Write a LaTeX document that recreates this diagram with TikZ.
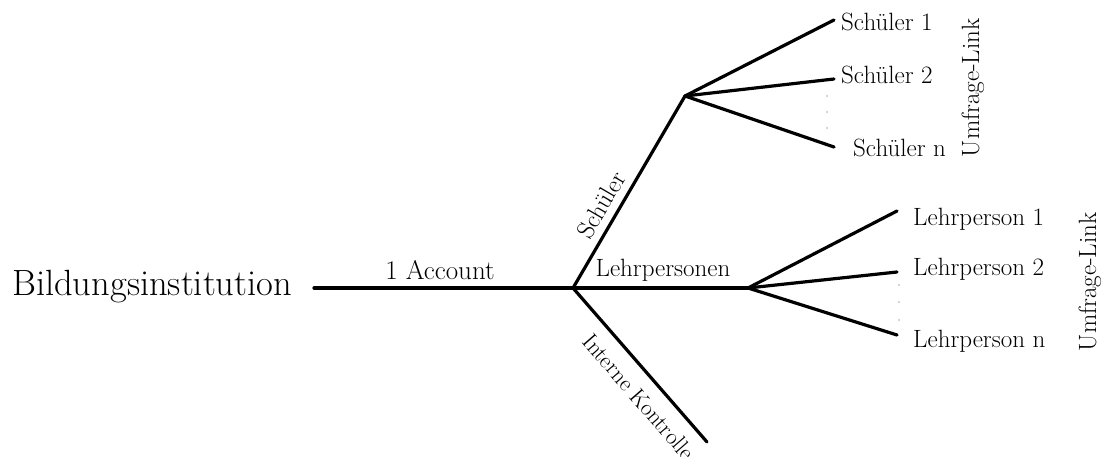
\documentclass[tikz,border=0pt]{standalone}
\begin{document}
\begin{tikzpicture}[x=1pt,y=-1pt,
  edge/.style={line width=3.2pt, line cap=round},
  lbl/.style={font=\fontsize{25}{30}\selectfont, inner sep=0pt},
  acc/.style={font=\fontsize{27}{32}\selectfont, inner sep=0pt},
  big/.style={font=\fontsize{36.5}{42}\selectfont, inner sep=0pt},
  dot/.style={circle, fill=black!70, inner sep=0pt, minimum size=1.3pt}]
\clip (0,0) rectangle (1104,457);
\fill[white] (0,0) rectangle (1104,457);
% hubs and ends
\coordinate (s) at (314,288);
\coordinate (a) at (573,288);
\coordinate (b) at (685,96);
\coordinate (c) at (748,288);
\coordinate (k) at (707,442);
\coordinate (s1) at (834,20);
\coordinate (s2) at (834,79);
\coordinate (sn) at (834,147);
\coordinate (l1) at (897,211);
\coordinate (l2) at (897,272);
\coordinate (ln) at (897,335);
% lines
\draw[edge] (s) -- (a);
\draw[edge] (a) -- (b);
\draw[edge] (a) -- (c);
\draw[edge] (a) -- (k);
\draw[edge] (b) -- (s1);
\draw[edge] (b) -- (s2);
\draw[edge] (b) -- (sn);
\draw[edge] (c) -- (l1);
\draw[edge] (c) -- (l2);
\draw[edge] (c) -- (ln);
% dots
\node[dot] (d1) at (827,96) {};
\node[dot] (d2) at (827,112) {};
\node[dot] (d3) at (827,128) {};
\node[dot] (d4) at (899,285) {};
\node[dot] (d5) at (899,302) {};
\node[dot] (d6) at (899,320) {};
% texts
\node[big, anchor=west] (bi) at (12,287) {Bildungsinstitution};
\node[acc] (ac) at (440,270) {1 Account};
\node[lbl, rotate=59.7] (sch) at (601,205) {Schüler};
\node[lbl] (lp) at (663,270) {Lehrpersonen};
\node[lbl, font=\fontsize{23}{28}\selectfont, rotate=-49] (ik) at (639,397) {Interne Kontrolle};
\node[lbl, anchor=west] (ts1) at (841,22) {Schüler 1};
\node[lbl, anchor=west] (ts2) at (841,75) {Schüler 2};
\node[lbl, anchor=west] (tsn) at (853,148) {Schüler n};
\node[lbl, rotate=90] (u1) at (973,88) {Umfrage-Link};
\node[lbl, anchor=west] (tl1) at (913,219) {Lehrperson 1};
\node[lbl, anchor=west] (tl2) at (913,269) {Lehrperson 2};
\node[lbl, anchor=west] (tln) at (913,341) {Lehrperson n};
\node[lbl, rotate=90] (u2) at (1090,282) {Umfrage-Link};
\end{tikzpicture}
\end{document}
